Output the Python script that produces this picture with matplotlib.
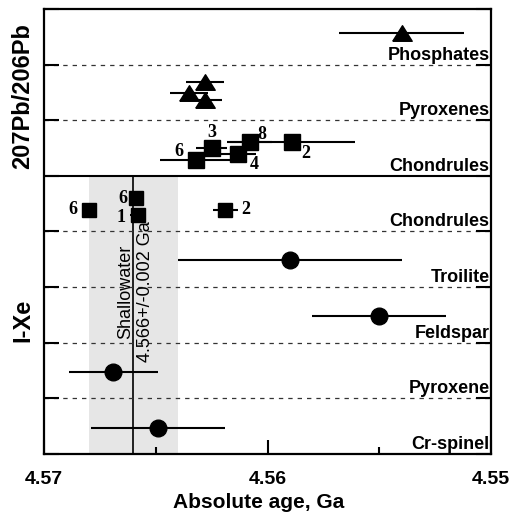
import matplotlib

matplotlib.use("Agg")
import matplotlib.pyplot as plt
import matplotlib.transforms as mtransforms

plt.rcParams["font.family"] = ["Liberation Sans", "DejaVu Sans"]

# rows, bottom to top (I-Xe rows 0-4, Pb-Pb rows 5-7)
row_labels = ["Cr-spinel", "Pyroxene", "Feldspar", "Troilite", "Chondrules",
              "Chondrules", "Pyroxenes", "Phosphates"]

# Pb-Pb ages
phos_age = [4.5540]
phos_err = [0.0028]
phos_y = [7.57]

pyx_age = [4.5628, 4.5635, 4.5628]
pyx_err = [0.00085, 0.00085, 0.00075]
pyx_y = [6.69, 6.49, 6.37]

chd_pb_age = [4.5632, 4.5625, 4.5613, 4.5608, 4.5589]
chd_pb_err = [0.0016, 0.0007, 0.0008, 0.0010, 0.0028]
chd_pb_y = [5.29, 5.50, 5.40, 5.60, 5.60]
chd_pb_lab = ["6", "3", "4", "8", "2"]

# I-Xe ages
chd_ix_age = [4.5680, 4.5659, 4.5658, 4.5619]
chd_ix_err = [0.0, 0.0, 0.00036, 0.00056]
chd_ix_y = [4.39, 4.60, 4.30, 4.39]
chd_ix_lab = ["6", "6", "1", "2"]

min_age = [4.5590, 4.5550, 4.5669, 4.5649]
min_err = [0.0050, 0.0030, 0.0020, 0.0030]
min_y = [3.49, 2.48, 1.47, 0.47]

shallow_age = 4.566
shallow_err = 0.002

x_ticks = [4.57, 4.56, 4.55]
x_minor = [4.565, 4.555]

# label offsets in points (layout only)
pb_offsets = [(-12, 6), (0, 11), (11, -8), (9, 6), (10, -8)]
ix_offsets = [(-11.5, 0), (-9.5, 0), (-12, -2), (15, 0)]

TRI = [(-1, -0.8), (1, -0.8), (0, 0.8), (-1, -0.8)]

fig = plt.figure(figsize=(5.18, 5.17), dpi=100, facecolor="white")
ax = fig.add_axes([0.085, 0.1219, 0.863, 0.8607])
ax.set_xlim(4.57, 4.55)
ax.set_ylim(0, 8)

# Shallowater reference band
ax.fill_betweenx([0, 5], shallow_age + shallow_err, shallow_age - shallow_err,
                 color="#e6e6e6", lw=0, zorder=0)
ax.plot([shallow_age, shallow_age], [0, 5], color="black", lw=1.2, zorder=1)
ax.text(4.56633, 2.91, "Shallowater", rotation=90, ha="center", va="center",
        fontsize=13, zorder=2)
ax.text(4.56548, 2.91, "4.566+/-0.002 Ga", rotation=90, ha="center", va="center",
        fontsize=13, zorder=2)

for yy in [1, 2, 3, 4, 6, 7]:
    ax.axhline(yy, color="#333333", lw=0.9, dashes=(3.5, 4), zorder=1)
ax.axhline(5, color="black", lw=1.5, zorder=3)

row_tr = mtransforms.blended_transform_factory(ax.transAxes, ax.transData)
for i, lab in enumerate(row_labels):
    ax.text(0.997, i + 0.02, lab, transform=row_tr, ha="right", va="bottom",
            fontsize=13, fontweight="bold", zorder=4)

eb = dict(ls="none", color="black", ecolor="black", elinewidth=1.5, capsize=0, zorder=5)
ax.errorbar(phos_age, phos_y, xerr=phos_err, marker=TRI, ms=14, **eb)
ax.errorbar(pyx_age, pyx_y, xerr=pyx_err, marker=TRI, ms=14, **eb)
ax.errorbar(chd_pb_age, chd_pb_y, xerr=chd_pb_err, marker="s", ms=11, **eb)
ax.errorbar(chd_ix_age, chd_ix_y, xerr=chd_ix_err, marker="s", ms=10, **eb)
ax.errorbar(min_age, min_y, xerr=min_err, marker="o", ms=12, **eb)

num_font = dict(family=["Liberation Serif", "DejaVu Serif"], fontsize=13, fontweight="bold")
for a, y, lab, off in zip(chd_pb_age, chd_pb_y, chd_pb_lab, pb_offsets):
    ax.annotate(lab, (a, y), xytext=off, textcoords="offset points",
                ha="center", va="center", zorder=6, **num_font)
for a, y, lab, off in zip(chd_ix_age, chd_ix_y, chd_ix_lab, ix_offsets):
    ax.annotate(lab, (a, y), xytext=off, textcoords="offset points",
                ha="center", va="center", zorder=6, **num_font)

ax.set_xticks(x_ticks)
ax.set_xticklabels([f"{t:.2f}" for t in x_ticks], fontsize=14, fontweight="bold")
ax.set_xticks(x_minor, minor=True)
ax.tick_params(axis="x", which="major", direction="in", length=10, width=1.5, pad=12)
ax.tick_params(axis="x", which="minor", direction="in", length=5, width=1.5)
ax.set_yticks(range(9))
ax.set_yticklabels([])
ax.tick_params(axis="y", which="major", direction="in", length=11, width=1.5,
               left=True, right=True)
for sp in ax.spines.values():
    sp.set_linewidth(1.6)

ax.set_xlabel("Absolute age, Ga", fontsize=15, fontweight="bold", labelpad=4, x=0.48)

ax.text(-0.047, 6.44, "207Pb/206Pb", transform=row_tr, rotation=90, ha="center",
        va="center", fontsize=17, fontweight="bold")
ax.text(-0.047, 2.41, "I-Xe", transform=row_tr, rotation=90, ha="center",
        va="center", fontsize=17, fontweight="bold")

fig.savefig("out.png", dpi=100)
